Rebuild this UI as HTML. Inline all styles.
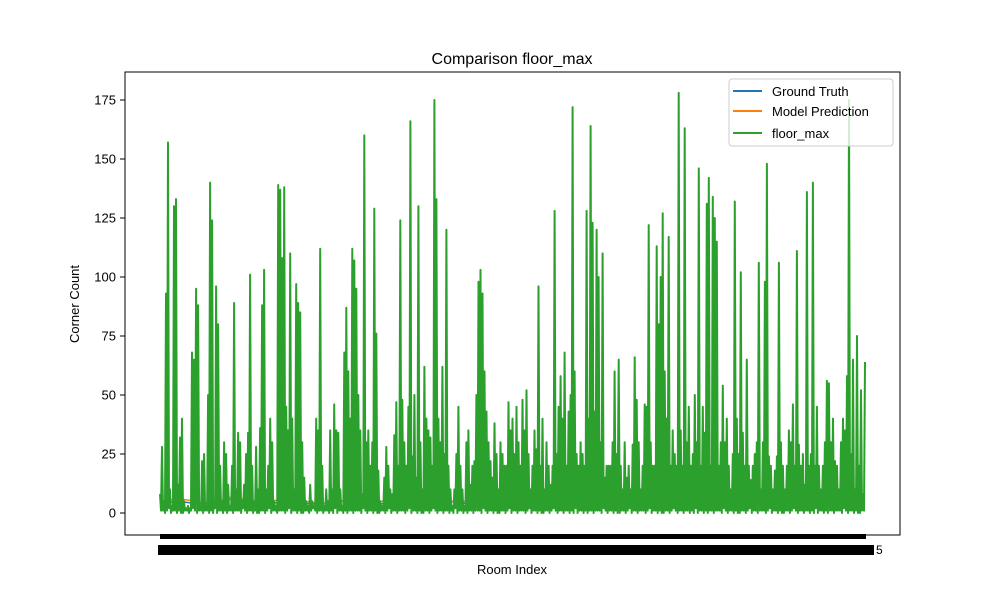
<!DOCTYPE html>
<html><head><meta charset="utf-8"><style>
body{margin:0;background:#fff;}
svg{display:block;font-family:"Liberation Sans","DejaVu Sans",sans-serif;}
</style></head><body>
<svg id="chart" width="1000" height="600">
<rect x="0" y="0" width="1000" height="600" fill="#fff"/>
<text x="512" y="64" text-anchor="middle" font-size="16" fill="#000">Comparison floor_max</text>
<g id="yaxis"></g>
<g id="series"></g>
<rect x="125" y="72" width="775" height="463" fill="none" stroke="#000" stroke-width="1"/>
<rect x="160" y="534" width="706" height="5" fill="#000"/>
<rect x="158" y="545" width="716" height="10" fill="#000"/>
<text x="876" y="554" font-size="12" fill="#000">5</text>
<text x="512" y="574" text-anchor="middle" font-size="13" fill="#000">Room Index</text>
<text x="0" y="0" transform="translate(79,304) rotate(-90)" text-anchor="middle" font-size="13" fill="#000">Corner Count</text>
<g>
<rect x="729" y="79" width="164" height="67" rx="3" fill="#fff" fill-opacity="0.8" stroke="#ccc"/>
<line x1="733" y1="91" x2="762" y2="91" stroke="#1f77b4" stroke-width="2"/>
<text x="772" y="96" font-size="13">Ground Truth</text>
<line x1="733" y1="111" x2="762" y2="111" stroke="#ff7f0e" stroke-width="2"/>
<text x="772" y="116" font-size="13">Model Prediction</text>
<line x1="733" y1="133" x2="762" y2="133" stroke="#2ca02c" stroke-width="2"/>
<text x="772" y="138" font-size="13">floor_max</text>
</g>
</svg>
<script>
const yTicks=[0,25,50,75,100,125,150,175];
const floorPeaks=[8,28,5,93,157,10,3,130,133,12,32,40,5,2,3,2,68,65,95,88,3,22,25,3,50,140,124,5,96,80,20,5,30,25,12,3,20,89,10,34,30,5,12,25,34,101,20,5,28,10,36,88,103,10,20,40,30,5,3,139,137,108,138,45,35,110,40,10,97,89,85,30,15,5,3,12,5,3,40,35,112,20,3,10,5,35,10,46,35,34,10,3,68,87,60,40,112,107,95,50,35,8,160,30,35,20,30,129,76,18,5,3,15,28,20,10,8,33,47,20,124,48,30,20,45,166,24,50,15,130,30,10,62,40,35,32,20,175,133,40,30,62,25,120,20,10,3,10,25,45,20,10,3,30,35,12,20,22,50,98,103,93,60,43,30,22,15,38,25,10,30,25,20,20,47,35,40,25,45,30,20,48,35,52,25,10,20,35,27,96,20,40,10,30,20,12,20,128,25,45,58,40,68,20,43,50,172,60,25,20,30,25,20,128,40,164,123,43,120,100,30,110,15,20,20,20,30,60,25,65,20,10,30,15,20,10,29,66,48,30,10,20,46,45,122,30,20,20,113,80,100,127,60,40,117,20,35,25,20,178,35,20,163,30,45,20,25,50,30,146,20,45,34,131,142,20,134,125,115,20,30,54,30,40,20,10,25,132,40,25,102,34,20,65,20,14,20,25,30,106,10,30,98,148,24,20,10,18,24,106,30,20,10,20,35,30,46,20,111,29,20,25,12,136,20,25,140,20,45,20,10,20,30,56,55,30,40,22,20,10,30,40,35,58,175,25,65,10,75,20,52,8,64];
const floorLows=[1,1,0,1,2,0,1,1,0,1,0,0,1,1,0,1,2,1,0,1,1,0,1,1,0,1,0,2,0,1,1,0,1,0,1,1,0,1,1,1,0,2,1,0,1,1,0,1,0,0,1,1,0,1,2,0,1,1,0,1];
const gtValues=[4,5,4,4,6,5,4,5,4,4,5,6,4,4,5,4,5,4,6,4,4,5,4,4,5,6,4,5,4,4,5,4,6,4,5,4,4,5,4,5];
const predValues=[5,6,5,4,7,5,5,6,5,4,5,7,5,5,6,4,5,5,7,5,4,6,5,5,6,7,5,5,4,5,6,5,7,5,5,4,5,6,5,6];
const X0=160,X1=865,Y0=513,YPER=413/175;
const ns='http://www.w3.org/2000/svg';
function yS(v){return Y0-v*YPER;}
function xS(i,n){return X0+(X1-X0)*i/(n-1);}
const ya=document.getElementById('yaxis');
yTicks.forEach(t=>{
 const l=document.createElementNS(ns,'line');
 l.setAttribute('x1',120);l.setAttribute('x2',125);l.setAttribute('y1',yS(t));l.setAttribute('y2',yS(t));l.setAttribute('stroke','#000');
 
 
 ya.appendChild(l);
 const tx=document.createElementNS(ns,'text');
 tx.setAttribute('x',116);tx.setAttribute('y',yS(t)+4.5);tx.setAttribute('text-anchor','end');tx.setAttribute('font-size','13');
 tx.textContent=t;
 
 
 ya.appendChild(tx);
});
const g=document.getElementById('series');
function addLine(pts,color,w){
 const p=document.createElementNS(ns,'polyline');
 p.setAttribute('points',pts.map(q=>q[0].toFixed(1)+','+q[1].toFixed(1)).join(' '));
 p.setAttribute('fill','none');p.setAttribute('stroke',color);p.setAttribute('stroke-width',w);p.setAttribute('stroke-linejoin','round');
 
 g.appendChild(p);
 return p;
}
const gl=addLine(gtValues.map((v,i)=>[xS(i,gtValues.length),yS(v)]),'#1f77b4','1.5');

const pl=addLine(predValues.map((v,i)=>[xS(i,predValues.length),yS(v)]),'#ff7f0e','1.5');

const n=floorPeaks.length,pts=[];
floorPeaks.forEach((v,i)=>{
 const x=xS(i,n);
 pts.push([x,yS(v)]);
 if(i<n-1){pts.push([x+(X1-X0)/(n-1)/2,yS(floorLows[i%floorLows.length])]);}
});
const fl=addLine(pts,'#2ca02c','2');

</script>
</body></html>
